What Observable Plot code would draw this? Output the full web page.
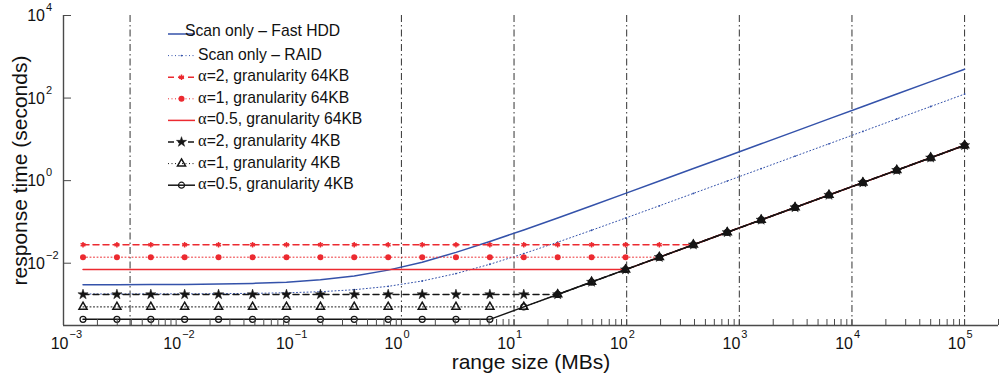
<!DOCTYPE html>
<html><head><meta charset="utf-8">
<script src="https://cdn.jsdelivr.net/npm/d3@7"></script>
<script src="https://cdn.jsdelivr.net/npm/@observablehq/plot@0.6"></script>
<style>
html,body{margin:0;padding:0;background:#fff;}
#wrap{position:relative;width:1001px;height:377px;}
#legend{position:absolute;left:0;top:0;pointer-events:none;}
</style></head><body><div id="wrap"></div>
<script>
// ---- data ----
const rangeSize = [0.00149, 0.00298, 0.00596, 0.0119, 0.0238, 0.0477, 0.0954, 0.191, 0.381, 0.763, 1.53, 3.05, 6.10, 12.2, 24.4, 48.8, 97.7, 195, 391, 781, 1563, 3125, 6250, 12500, 25000, 50000, 100000];
const scanFastHDD = [0.00301, 0.00301, 0.00303, 0.00306, 0.00312, 0.00324, 0.00348, 0.00395, 0.0049, 0.0068, 0.0106, 0.0183, 0.0335, 0.064, 0.125, 0.247, 0.491, 0.98, 1.96, 3.91, 7.82, 15.6, 31.3, 62.5, 125, 250, 500];
const scanRAID = [0.0018, 0.0018, 0.00181, 0.00181, 0.00183, 0.00186, 0.00192, 0.00204, 0.00228, 0.00275, 0.00371, 0.00561, 0.00943, 0.0171, 0.0323, 0.0628, 0.124, 0.246, 0.491, 0.978, 1.955, 3.91, 7.81, 15.6, 31.3, 62.5, 125];
const a2g64 = [0.028, 0.028, 0.028, 0.028, 0.028, 0.028, 0.028, 0.028, 0.028, 0.028, 0.028, 0.028, 0.028, 0.028, 0.028, 0.028, 0.028, 0.028, 0.028, 0.056, 0.112, 0.224, 0.448, 0.896, 1.79, 3.58, 7.17];
const a1g64 = [0.014, 0.014, 0.014, 0.014, 0.014, 0.014, 0.014, 0.014, 0.014, 0.014, 0.014, 0.014, 0.014, 0.014, 0.014, 0.014, 0.014, 0.014, 0.028, 0.056, 0.112, 0.224, 0.448, 0.896, 1.79, 3.58, 7.17];
const a05g64 = [0.007, 0.007, 0.007, 0.007, 0.007, 0.007, 0.007, 0.007, 0.007, 0.007, 0.007, 0.007, 0.007, 0.007, 0.007, 0.007, 0.007, 0.014, 0.028, 0.056, 0.112, 0.224, 0.448, 0.896, 1.79, 3.58, 7.17];
const a2g4 = [0.00175, 0.00175, 0.00175, 0.00175, 0.00175, 0.00175, 0.00175, 0.00175, 0.00175, 0.00175, 0.00175, 0.00175, 0.00175, 0.00175, 0.00175, 0.0035, 0.007, 0.014, 0.028, 0.056, 0.112, 0.224, 0.448, 0.896, 1.79, 3.58, 7.17];
const a1g4 = [0.000875, 0.000875, 0.000875, 0.000875, 0.000875, 0.000875, 0.000875, 0.000875, 0.000875, 0.000875, 0.000875, 0.000875, 0.000875, 0.000875, 0.00175, 0.0035, 0.007, 0.014, 0.028, 0.056, 0.112, 0.224, 0.448, 0.896, 1.79, 3.58, 7.17];
const a05g4 = [0.000437, 0.000437, 0.000437, 0.000437, 0.000437, 0.000437, 0.000437, 0.000437, 0.000437, 0.000437, 0.000437, 0.000437, 0.000437, 0.000875, 0.00175, 0.0035, 0.007, 0.014, 0.028, 0.056, 0.112, 0.224, 0.448, 0.896, 1.79, 3.58, 7.17];

const seriesNames = ["Scan only \u2013 Fast HDD", "Scan only \u2013 RAID", "=2, granularity 64KB", "=1, granularity 64KB", "=0.5, granularity 64KB", "=2, granularity 4KB", "=1, granularity 4KB", "=0.5, granularity 4KB"];
const seriesHasAlpha = [false, false, true, true, true, true, true, true];

const guideLines = [0.0039, 1, 10, 100, 1000, 10000, 100000];
const xTickValues = [1e-3, 1e-2, 1e-1, 1e0, 1e1, 1e2, 1e3, 1e4, 1e5];
const xTickExponents = ["\u22123", "\u22122", "\u22121", "0", "1", "2", "3", "4", "5"];
const yTickValues = [1e-2, 1e0, 1e2, 1e4];
const yTickExponents = ["\u22122", "0", "2", "4"];
const xMinorTicks = [];
for (let e = -3; e <= 5; e++) for (let m = 1; m <= 9; m++) { const v = m * Math.pow(10, e); if (v <= 2e5) xMinorTicks.push(v); }
xMinorTicks.push(2e5);
const xDomain = [1e-3, 2e5];
const yDomain = [3.1e-4, 1e4];

// ---- styles ----
const BLUE = "#3452aa", RED = "#ec2a30", BLACK = "#151515";
const styles = [
  {stroke: BLUE, width: 1.5, dash: null, symbol: null},
  {stroke: BLUE, width: 1, dash: "1,2.5", symbol: "circle", r: 0.9, fill: BLUE, mstroke: "none"},
  {stroke: RED, width: 1.5, dash: "6,4", symbol: "asterisk", r: 2.6, fill: "none", mstroke: RED, msw: 1.5},
  {stroke: RED, width: 1, dash: "1,2.5", symbol: "circle", r: 3, fill: RED, mstroke: "none"},
  {stroke: RED, width: 1.5, dash: null, symbol: null},
  {stroke: BLACK, width: 1.5, dash: "6,4", symbol: "star", r: 3.2, fill: BLACK, mstroke: BLACK, msw: 0.5},
  {stroke: BLACK, width: 1, dash: "1,2.5", symbol: "triangle", r: 3, fill: "none", mstroke: BLACK, msw: 1.5},
  {stroke: BLACK, width: 1.5, dash: null, symbol: "circle", r: 3, fill: "none", mstroke: BLACK, msw: 1.2}
];
const seriesValues = [scanFastHDD, scanRAID, a2g64, a1g64, a05g64, a2g4, a1g4, a05g4];

const seriesMarks = [];
seriesValues.forEach((vals, k) => {
  const s = styles[k];
  const rows = rangeSize.map((x, i) => ({x, y: vals[i]}));
  seriesMarks.push(Plot.line(rows, {x: "x", y: "y", stroke: s.stroke, strokeWidth: s.width, strokeDasharray: s.dash}));
  if (s.symbol) seriesMarks.push(Plot.dot(rows, {x: "x", y: "y", symbol: s.symbol, r: s.r, fill: s.fill, stroke: s.mstroke, strokeWidth: s.msw || 1}));
});

const xTicksTable = xTickValues.map((v, i) => ({v, e: xTickExponents[i], neg: xTickExponents[i].startsWith("\u2212")}));
const yTicksTable = yTickValues.map((v, i) => ({v, e: yTickExponents[i]}));
const AX = "#4a4a4a";
const FONT = "'Liberation Sans', Arial, Helvetica, sans-serif";

const chart = Plot.plot({
  width: 1001, height: 377,
  marginTop: 15, marginRight: 3, marginBottom: 52, marginLeft: 63,
  style: {fontFamily: FONT, background: "#fff", overflow: "visible", color: "#111"},
  x: {type: "log", domain: xDomain, axis: null},
  y: {type: "log", domain: yDomain, axis: null},
  marks: [
    Plot.ruleX(guideLines, {stroke: "#333", strokeWidth: 1, strokeDasharray: "7,3,1.5,3"}),
    ...seriesMarks,
    Plot.ruleY([yDomain[0]], {stroke: AX, strokeWidth: 1.4}),
    Plot.ruleX([xDomain[0]], {stroke: AX, strokeWidth: 1.4}),
    Plot.tickX(xMinorTicks, {x: d => d, insetTop: 304, stroke: AX}),
    Plot.tickY(yTickValues, {y: d => d, insetRight: 927, stroke: AX}),
    // x tick labels
    Plot.text(xTicksTable.filter(d => d.neg), {x: "v", frameAnchor: "bottom", lineAnchor: "middle", text: () => "10", textAnchor: "end", dx: 5, dy: 18, fontSize: 16}),
    Plot.text(xTicksTable.filter(d => d.neg), {x: "v", frameAnchor: "bottom", lineAnchor: "middle", text: "e", textAnchor: "start", dx: 6, dy: 8.5, fontSize: 11}),
    Plot.text(xTicksTable.filter(d => !d.neg), {x: "v", frameAnchor: "bottom", lineAnchor: "middle", text: () => "10", textAnchor: "end", dx: 1, dy: 18, fontSize: 16}),
    Plot.text(xTicksTable.filter(d => !d.neg), {x: "v", frameAnchor: "bottom", lineAnchor: "middle", text: "e", textAnchor: "start", dx: 2, dy: 8.5, fontSize: 11}),
    // y tick labels
    Plot.text(yTicksTable, {y: "v", frameAnchor: "left", lineAnchor: "middle", text: () => "10", textAnchor: "end", dx: -18.5, dy: 0.5, fontSize: 16}),
    Plot.text(yTicksTable, {y: "v", frameAnchor: "left", lineAnchor: "middle", text: "e", textAnchor: "start", dx: -17.5, dy: -8, fontSize: 11}),
    // axis titles
    Plot.text(["range size (MBs)"], {frameAnchor: "bottom", lineAnchor: "middle", textAnchor: "middle", dy: 37, fontSize: 21}),
    Plot.text(["response time (seconds)"], {frameAnchor: "left", lineAnchor: "middle", textAnchor: "middle", dx: -43, rotate: -90, fontSize: 21})
  ]
});
const wrap = document.getElementById("wrap");
wrap.appendChild(chart);

// ---- legend overlay (inside plot area, top-left) ----
const lg = d3.select(wrap).append("svg").attr("id", "legend").attr("width", 1001).attr("height", 377)
  .style("font-family", FONT);
const rowY = i => 34 + 21.6 * i;
styles.forEach((s, i) => {
  const y = rowY(i);
  const g = lg.append("g");
  g.append("line").attr("x1", 168).attr("x2", 195).attr("y1", y).attr("y2", y)
    .attr("stroke", s.stroke).attr("stroke-width", s.width).attr("stroke-dasharray", s.dash);
  if (s.symbol) {
    const types = {circle: d3.symbolCircle, asterisk: d3.symbolAsterisk, star: d3.symbolStar, triangle: d3.symbolTriangle};
    g.append("path").attr("transform", `translate(181.5,${y})`)
      .attr("d", d3.symbol(types[s.symbol], Math.PI * s.r * s.r)())
      .attr("fill", s.fill).attr("stroke", s.mstroke).attr("stroke-width", s.msw || 1);
  }
  const t = g.append("text").attr("x", i === 0 ? 185 : 198).attr("y", y - (i === 0 ? 4 : 2))
    .attr("dominant-baseline", "central").attr("font-size", 15.7).attr("fill", "#111");
  if (seriesHasAlpha[i]) t.append("tspan").attr("font-family", "'Liberation Serif', 'DejaVu Serif', serif").attr("font-size", 16.5).text("\u03b1");
  t.append("tspan").text(seriesNames[i]);
});
</script></body></html>
